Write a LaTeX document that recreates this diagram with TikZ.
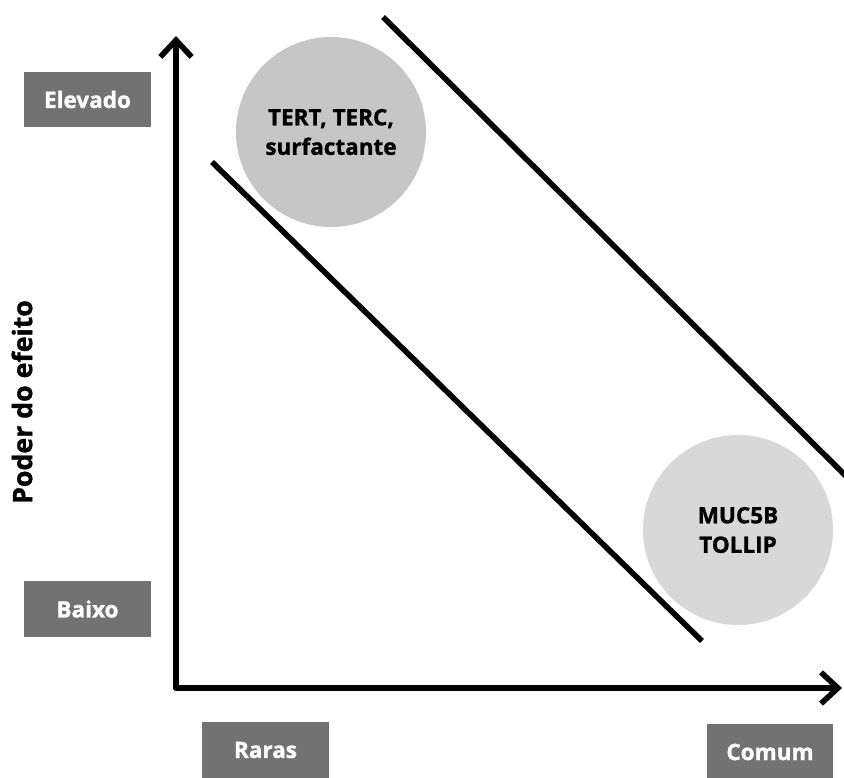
\documentclass[tikz,border=0pt]{standalone}
\usepackage{fontspec}
\IfFontExistsTF{Open Sans ExtraBold}
  {\setmainfont{Open Sans}[BoldFont={Open Sans ExtraBold}]}
  {\setmainfont{Open Sans}[BoldFeatures={FakeBold=1.2}]}
\usetikzlibrary{arrows.meta}
\definecolor{boxgray}{HTML}{727272}
\definecolor{darkblob}{HTML}{C6C6C6}
\definecolor{lightblob}{HTML}{D8D8D8}

\begin{document}
\begin{tikzpicture}[x=0.025cm,y=-0.025cm,line width=4pt,
  levelbox/.style={rectangle,fill=boxgray,text=white,inner sep=0pt,
    minimum width=3.15cm,minimum height=1.38cm,font=\bfseries\fontsize{16}{18}\selectfont},
  gene/.style={circle,fill=#1,inner sep=0pt,minimum size=4.75cm,align=center,
    font=\bfseries\fontsize{16}{21}\selectfont},
  axis/.style={-{Straight Barb[length=0.42cm,width=0.78cm]},line cap=round,line join=round},
  band/.style={line cap=butt}]
  \useasboundingbox (0,0) rectangle (844,778);

  \path
  (87.5,99.5) node[levelbox] (elevado) {Elevado}
  (87.5,609) node[levelbox] (baixo) {Baixo}
  (265.5,750) node[levelbox] (raras) {Raras}
  (770,752) node[levelbox] (comum) {Comum}
  (22,402) node[rotate=90,font=\bfseries\fontsize{19}{21}\selectfont] (poder) {Poder do efeito}

  (331,132) node[gene=darkblob] (tert) {TERT, TERC,\\surfactante}
  (738,530) node[gene=lightblob] (muc) {MUC5B\\TOLLIP}

  (176,688) coordinate (origin)
  (176,36) coordinate (ytip)
  (842,688) coordinate (xtip)
  (212,162) coordinate (lowstart)
  (702,641) coordinate (lowend)
  (383,17) coordinate (highstart)
  (852,482) coordinate (highend);

  \draw[band] (lowstart) -- (lowend);
  \draw[band] (highstart) -- (highend);
  \draw[axis] (origin) -- (ytip);
  \draw[axis] (origin) -- (xtip);
\end{tikzpicture}
\end{document}
